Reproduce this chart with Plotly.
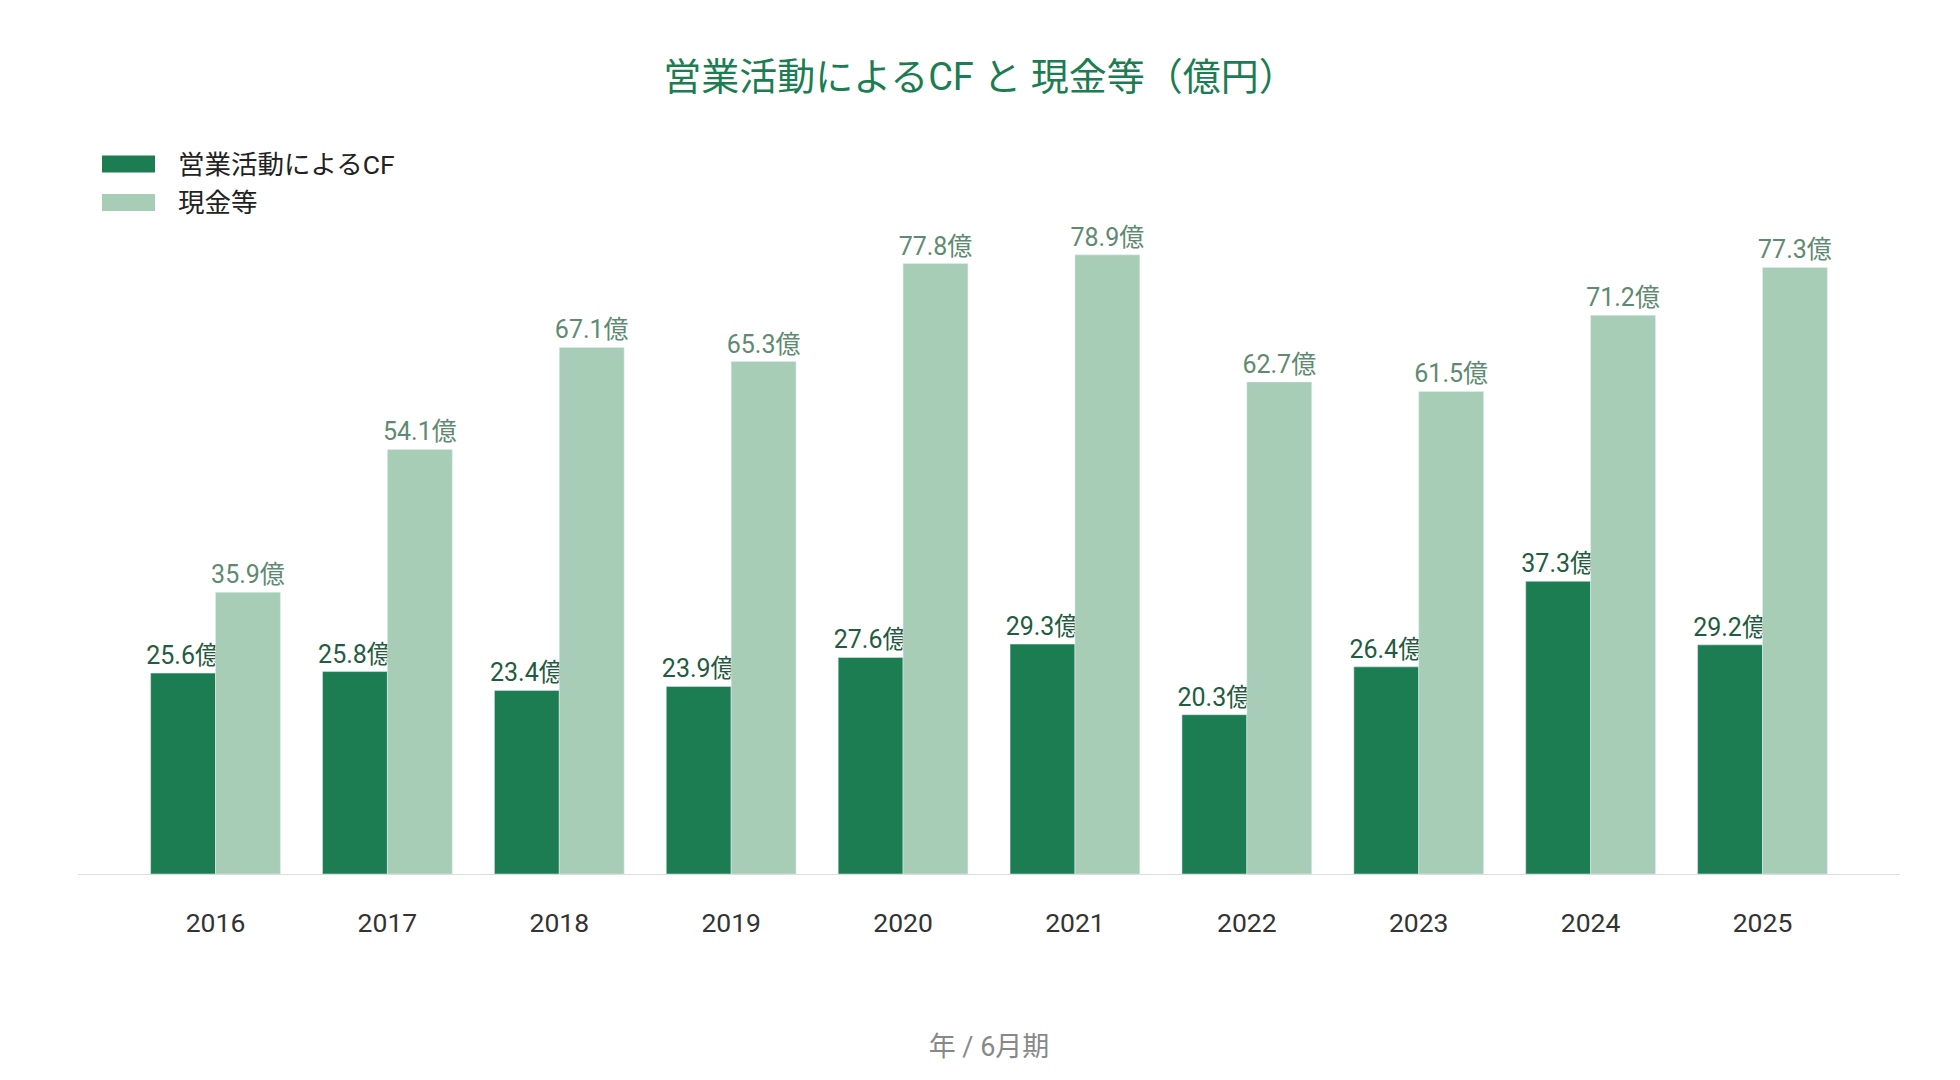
import plotly.graph_objects as go

years = ["2016", "2017", "2018", "2019", "2020", "2021", "2022", "2023", "2024", "2025"]
cf_values = [25.6, 25.8, 23.4, 23.9, 27.6, 29.3, 20.3, 26.4, 37.3, 29.2]
cash_values = [35.9, 54.1, 67.1, 65.3, 77.8, 78.9, 62.7, 61.5, 71.2, 77.3]
series_names = ["営業活動によるCF", "現金等"]

DARK = "#1c7d52"
LIGHT = "#a8cdb7"
FONT = "Roboto, Noto Sans CJK JP, sans-serif"

W, H = 1960, 1080
ML, MR, MT, MB = 78, 60, 207, 206

fig = go.Figure()
fig.add_trace(go.Bar(
    x=years, y=cf_values, name=series_names[0], marker_color=DARK,
    text=[f"{v:.1f}億" for v in cf_values], textposition="outside",
    textfont=dict(family=FONT, size=25, color="#1f5c41"),
    constraintext="none", cliponaxis=False, showlegend=False,
))
fig.add_trace(go.Bar(
    x=years, y=cash_values, name=series_names[1], marker_color=LIGHT,
    text=[f"{v:.1f}億" for v in cash_values], textposition="outside",
    textfont=dict(family=FONT, size=25, color="#5e8a72"),
    constraintext="none", cliponaxis=False, showlegend=False,
))

# custom legend (swatches + text), positioned in pixel-derived paper coords
def px_x(x):
    return (x - ML) / (W - ML - MR)

def px_y(y):
    return 1 - (y - MT) / (H - MT - MB)

shapes = []
annotations = []
for i, (name, col) in enumerate(zip(series_names, [DARK, LIGHT])):
    yc = 164 + i * 38.5
    shapes.append(dict(type="rect", xref="paper", yref="paper",
                       x0=px_x(102), x1=px_x(155), y0=px_y(yc + 8.5), y1=px_y(yc - 8.5),
                       fillcolor=col, line=dict(width=0)))
    annotations.append(dict(xref="paper", yref="paper", x=px_x(176), y=px_y(yc),
                            text=name, showarrow=False, xanchor="left", yanchor="middle",
                            font=dict(family=FONT, size=26.5, color="#222")))

fig.update_layout(
    width=W, height=H,
    margin=dict(l=ML, r=MR, t=MT, b=MB),
    paper_bgcolor="white", plot_bgcolor="white",
    barmode="group", bargap=0.245, bargroupgap=0,
    title=dict(text="営業活動によるCF と 現金等（億円）", x=0.5, xanchor="center",
               y=1 - 77 / H, yanchor="middle",
               font=dict(family=FONT, size=38, color="#1c7d52")),
    font=dict(family=FONT),
    xaxis=dict(type="category", range=[-0.8, 9.8], showline=True, linecolor="#dddddd",
               linewidth=1, ticks="", ticklabelstandoff=25,
               tickfont=dict(family=FONT, size=26.5, color="#333"),
               title=dict(text="年 / 6月期", standoff=100,
                          font=dict(family=FONT, size=27, color="#888"))),
    yaxis=dict(range=[0, 85], visible=False, showgrid=False, zeroline=False),
    shapes=shapes, annotations=annotations,
)

fig.write_html("out.html")
